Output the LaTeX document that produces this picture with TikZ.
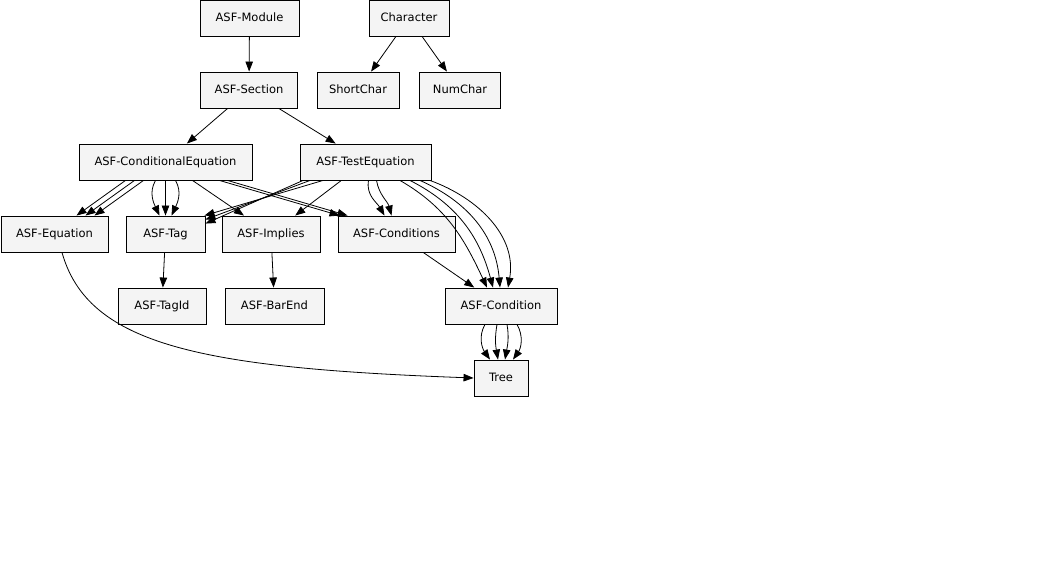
\documentclass[tikz,border=0pt]{standalone}
\usepackage{fontspec}
\setmainfont{DejaVu Sans}
\usetikzlibrary{arrows.meta}

\definecolor{boxgray}{RGB}{244,244,244}

\tikzset{
  box/.style={draw, line width=0.9pt, fill=boxgray, minimum width=#1pt,
    minimum height=36pt, inner sep=0pt, text height=8.5pt, text depth=2pt,
    font=\fontsize{11.5}{13}\selectfont},
  edge/.style={line width=0.8pt, -{Triangle[length=10pt,width=7.5pt]}},
}

\begin{document}
\begin{tikzpicture}[x=1pt,y=1pt]
        \useasboundingbox (0,0) rectangle (1059,-585);
        \node[box=99] (Module) at (249.5,-18) {ASF-Module};
        \node[box=80] (Character) at (409,-18) {Character};
        \node[box=97] (Section) at (249,-90) {ASF-Section};
        \node[box=82] (ShortChar) at (358,-90) {ShortChar};
        \node[box=81] (NumChar) at (460,-90) {NumChar};
        \node[box=173] (CondEq) at (165.5,-162) {ASF-ConditionalEquation};
        \node[box=131] (TestEq) at (365.5,-162) {ASF-TestEquation};
        \node[box=107] (Equation) at (54.5,-234) {ASF-Equation};
        \node[box=79] (Tag) at (165.5,-234) {ASF-Tag};
        \node[box=98] (Implies) at (271,-234) {ASF-Implies};
        \node[box=117] (Conditions) at (396.5,-234) {ASF-Conditions};
        \node[box=88] (TagId) at (162,-306) {ASF-TagId};
        \node[box=99] (BarEnd) at (274.5,-306) {ASF-BarEnd};
        \node[box=112] (Condition) at (501,-306) {ASF-Condition};
        \node[box=54] (Tree) at (501,-378) {Tree};
        \draw[edge] (Module) -- (Section);
        \draw[edge] (Character) -- (ShortChar);
        \draw[edge] (Character) -- (NumChar);
        \draw[edge] (Section) -- (CondEq);
        \draw[edge] (Section) -- (TestEq);
        \foreach \a/\b in {-40/22,-31/31,-22/40}
            \draw[edge] ([xshift=\a pt]CondEq.south) -- ([xshift=\b pt]Equation.north);
        \draw[edge] ([xshift=-10pt]CondEq.south) to[out=-120,in=115] ([xshift=-6pt]Tag.north);
        \draw[edge] (CondEq.south) -- (Tag.north);
        \draw[edge] ([xshift=10pt]CondEq.south) to[out=-60,in=65] ([xshift=6pt]Tag.north);
        \draw[edge] (CondEq) -- (Implies);
        \draw[edge] ([xshift=54pt]CondEq.south) -- ([xshift=2pt]Conditions.north west);
        \draw[edge] ([xshift=62pt]CondEq.south) -- ([xshift=10pt]Conditions.north west);
        \draw[edge] ([xshift=-62.5pt]TestEq.south) -- ([yshift=-8pt]Tag.north east);
        \draw[edge] ([xshift=-55.5pt]TestEq.south) -- ([yshift=-4pt]Tag.north east);
        \draw[edge] ([xshift=-42.5pt]TestEq.south) -- ([xshift=-1pt]Tag.north east);
        \draw[edge] (TestEq) -- (Implies);
        \draw[edge] ([xshift=3pt]TestEq.south) to[out=-100,in=120] ([xshift=-12pt]Conditions.north);
        \draw[edge] ([xshift=11pt]TestEq.south) to[out=-80,in=105] ([xshift=-5pt]Conditions.north);
        \draw[edge] ([xshift=34.5pt]TestEq.south) to[out=-30,in=115] ([xshift=-14pt]Condition.north);
        \draw[edge] ([xshift=44.5pt]TestEq.south) to[out=-27,in=105] ([xshift=-8pt]Condition.north);
        \draw[edge] ([xshift=54.5pt]TestEq.south) to[out=-24,in=95] ([xshift=-1pt]Condition.north);
        \draw[edge] ([xshift=64.5pt]TestEq.south) to[out=-20,in=80] ([xshift=7pt]Condition.north);
        \draw[edge] (Conditions) -- (Condition);
        \draw[edge] ([xshift=-16pt]Condition.south) to[out=-120,in=125] ([xshift=-11pt]Tree.north);
        \draw[edge] ([xshift=-4pt]Condition.south) to[out=-100,in=100] ([xshift=-3pt]Tree.north);
        \draw[edge] ([xshift=6pt]Condition.south) to[out=-80,in=80] ([xshift=4pt]Tree.north);
        \draw[edge] ([xshift=16pt]Condition.south) to[out=-60,in=55] ([xshift=12pt]Tree.north);
        \draw[edge] ([xshift=7.5pt]Equation.south) .. controls (88,-345) and (200,-368) .. (Tree.west);
        \draw[edge] (Tag) -- (TagId);
        \draw[edge] (Implies) -- (BarEnd);
    \end{tikzpicture}
\end{document}
